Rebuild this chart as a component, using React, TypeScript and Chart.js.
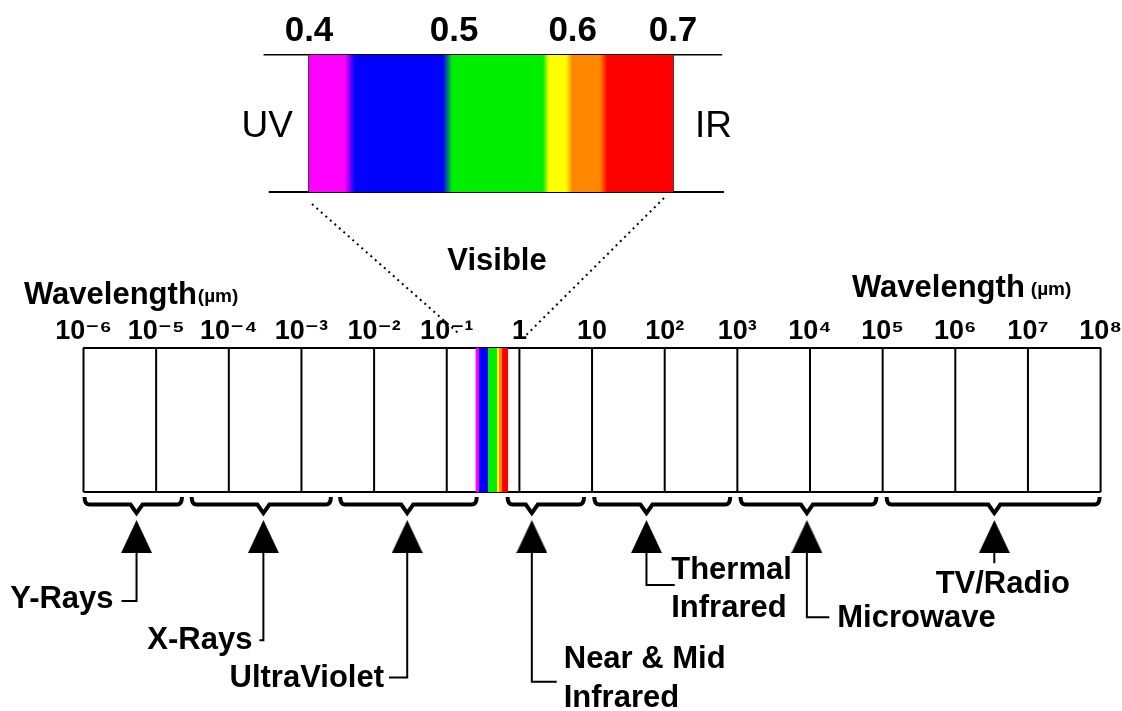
import React, { useEffect, useRef } from 'react';
import { Chart, registerables } from 'chart.js';

Chart.register(...registerables);

const FONT = '"Liberation Sans", Arial, "DejaVu Sans", sans-serif';

// ---------- data ----------
// main axis: log10 of wavelength (µm)
const decadeExponents = [-6, -5, -4, -3, -2, -1, 0, 1, 2, 3, 4, 5, 6, 7, 8];
const decadeLabels = ['10⁻⁶', '10⁻⁵', '10⁻⁴', '10⁻³', '10⁻²', '10⁻¹', '1', '10', '10²', '10³', '10⁴', '10⁵', '10⁶', '10⁷', '10⁸'];

// spectral regions (log10 µm)
const bandNames = ['Y-Rays', 'X-Rays', 'UltraViolet', 'Near & Mid\nInfrared', 'Thermal\nInfrared', 'Microwave', 'TV/Radio'];
const bandStart = [-6.0, -4.525, -2.481, -0.176, 1.017, 3.03, 5.041];
const bandEnd = [-4.631, -2.581, -0.574, 0.903, 2.915, 4.927, 8.0];
const bandArrow = [-5.27, -3.524, -1.544, 0.171, 1.749, 3.957, 6.537];

// visible strip inside the main bar (log10 µm)
const visibleStrip = [-0.606, -0.153];

// zoomed visible spectrum (µm)
const visibleTicks = [0.4, 0.5, 0.6, 0.7];
const spectrumStops = [0.4, 0.4228, 0.4292, 0.4915, 0.4984, 0.5733, 0.5784, 0.5938, 0.5995, 0.6255, 0.6326, 0.7];
const spectrumColors = ['#ff00ff', '#ff00ff', '#0000ff', '#0000ff', '#00ee00', '#00ee00', '#ffff00', '#ffff00', '#ff8800', '#ff8800', '#ff0000', '#ff0000'];

// ---------- layout (not data) ----------
const labelStemEnd = [-0.757, -1.028, -1.287, -1.317, -0.646, -0.87, -0.495];
const labelElbow = [-5.476, -3.579, -1.795, 0.514, 2.138, 4.265, 6.537];
const labelSide = ['left', 'left', 'left', 'right', 'right', 'right', 'below'];
const labelGap = [8, 7, 5, 7, -3.5, 8, -8.5];
const labelBaseline = [[7], [9], [9.4], [-13.4, 25], [-5.7, 32.3], [9.4], [30]];
const STEM_TOP = -0.424;
const TRI_Y = -0.309;
const frameTopExtent = [0.373, 0.755];
const frameBottomExtent = [0.376, 0.757];

// position of a wavelength across the zoomed spectrum (0..1), logarithmic like the top axis
function spectrumFraction(v: number) {
  const a = spectrumStops[0];
  const b = spectrumStops[spectrumStops.length - 1];
  return Math.log(v / a) / Math.log(b / a);
}

function spectrumGradient(chart: any, lo: number, hi: number, scaleId: string) {
  const sc = chart.scales[scaleId];
  if (!sc || !chart.chartArea) return 'rgba(0,0,0,0)';
  const x0 = sc.getPixelForValue(lo);
  const x1 = sc.getPixelForValue(hi);
  const g = chart.ctx.createLinearGradient(x0, 0, x1, 0);
  spectrumStops.forEach((s, i) => g.addColorStop(Math.min(1, Math.max(0, spectrumFraction(s))), spectrumColors[i]));
  return g;
}

function makeTriangle() {
  const c = document.createElement('canvas');
  c.width = 31;
  c.height = 33;
  const g = c.getContext('2d')!;
  g.fillStyle = '#000';
  g.beginPath();
  g.moveTo(15.5, 0);
  g.lineTo(31, 33);
  g.lineTo(0, 33);
  g.closePath();
  g.fill();
  return c;
}

export default function App() {
  const mainRef = useRef<HTMLCanvasElement>(null);
  const topRef = useRef<HTMLCanvasElement>(null);

  useEffect(() => {
    document.body.style.margin = '0';
    const tri = makeTriangle();

    const topPlugin = {
      id: 'uvir',
      afterDatasetsDraw(chart: any) {
        const { ctx, scales } = chart;
        const x = scales.x, y = scales.y;
        ctx.save();
        ctx.fillStyle = '#000';
        ctx.font = `37px ${FONT}`;
        ctx.textBaseline = 'alphabetic';
        const base = y.getPixelForValue(0.5) + 14;
        ctx.textAlign = 'right';
        ctx.fillText('UV', x.getPixelForValue(visibleTicks[0]) - 16, base);
        ctx.textAlign = 'left';
        ctx.fillText('IR', x.getPixelForValue(visibleTicks[visibleTicks.length - 1]) + 22, base);
        ctx.restore();
      },
    };

    const top = new Chart(topRef.current!, {
      type: 'line',
      data: {
        datasets: [
          {
            data: [{ x: 0.4, y: 1 }, { x: 0.7, y: 1 }],
            fill: { value: 0 },
            backgroundColor: (c: any) => spectrumGradient(c.chart, 0.4, 0.7, 'x'),
            borderWidth: 0,
            pointRadius: 0,
          },
          {
            data: [{ x: 0.4, y: 0 }, { x: 0.4, y: 1 }, { x: 0.4, y: null }, { x: 0.7, y: 0 }, { x: 0.7, y: 1 }],
            borderColor: '#000',
            borderWidth: 1.5,
            pointRadius: 0,
            fill: false,
            clip: false,
          },
          {
            data: [{ x: frameTopExtent[0], y: 1 }, { x: frameTopExtent[1], y: 1 }],
            borderColor: '#000',
            borderWidth: 1.5,
            pointRadius: 0,
            fill: false,
            clip: false,
          },
          {
            data: [{ x: frameBottomExtent[0], y: 0 }, { x: frameBottomExtent[1], y: 0 }],
            borderColor: '#000',
            borderWidth: 2,
            pointRadius: 0,
            fill: false,
            clip: false,
          },
        ] as any,
      },
      options: {
        responsive: false,
        animation: false,
        events: [],
        layout: { padding: { left: 309, right: 449, top: 8.8, bottom: 519 }, autoPadding: false } as any,
        plugins: { legend: { display: false }, tooltip: { enabled: false } },
        scales: {
          x: {
            type: 'logarithmic',
            position: 'top',
            min: 0.4,
            max: 0.7,
            afterBuildTicks: (s: any) => {
              s.ticks = visibleTicks.map((v) => ({ value: v }));
            },
            ticks: {
              autoSkip: false,
              maxRotation: 0,
              minRotation: 0,
              padding: 2,
              color: '#000',
              font: { size: 35, weight: 'bold', family: FONT },
              callback: (v: any) => Number(v).toFixed(1),
            },
            grid: { display: false, drawTicks: false },
            border: { display: false },
          },
          y: { type: 'linear', display: false, min: 0, max: 1 },
        },
      },
      plugins: [topPlugin],
    } as any);

    const dividerPts: any[] = [];
    decadeExponents.forEach((e) => {
      dividerPts.push({ x: e, y: 0 }, { x: e, y: 1 }, { x: e, y: null });
    });
    const stemPts: any[] = [];
    bandArrow.forEach((a, i) => {
      stemPts.push(
        { x: a, y: STEM_TOP },
        { x: a, y: labelStemEnd[i] },
        { x: labelElbow[i], y: labelStemEnd[i] },
        { x: labelElbow[i], y: null }
      );
    });

    const mainPlugin = {
      id: 'annot',
      afterDatasetsDraw(chart: any) {
        const { ctx, scales, chartArea } = chart;
        const x = scales.x, y = scales.y;
        ctx.save();
        ctx.strokeStyle = '#000';
        ctx.fillStyle = '#000';

        // braces under the bar
        const y0 = y.getPixelForValue(0);
        const yTop = y0 + 5;
        const yBar = y0 + 12.5;
        const yTip = y0 + 21;
        ctx.lineWidth = 4;
        ctx.lineJoin = 'miter';
        ctx.lineCap = 'butt';
        bandStart.forEach((s, i) => {
          const x0 = x.getPixelForValue(s) + 1;
          const x1 = x.getPixelForValue(bandEnd[i]) - 1;
          const xc = x.getPixelForValue(bandArrow[i]);
          ctx.beginPath();
          ctx.moveTo(x0, yTop);
          ctx.quadraticCurveTo(x0, yBar, x0 + 5, yBar);
          ctx.lineTo(xc - 6, yBar);
          ctx.lineTo(xc, yTip);
          ctx.lineTo(xc + 6, yBar);
          ctx.lineTo(x1 - 5, yBar);
          ctx.quadraticCurveTo(x1, yBar, x1, yTop);
          ctx.stroke();
        });

        // region labels
        ctx.font = `bold 31px ${FONT}`;
        ctx.textBaseline = 'alphabetic';
        bandNames.forEach((name, i) => {
          const ye = y.getPixelForValue(labelStemEnd[i]);
          const xe = x.getPixelForValue(labelElbow[i]);
          name.split('\n').forEach((ln, k) => {
            const by = ye + labelBaseline[i][k];
            if (labelSide[i] === 'left') {
              ctx.textAlign = 'right';
              ctx.fillText(ln, xe - labelGap[i], by);
            } else if (labelSide[i] === 'right') {
              ctx.textAlign = 'left';
              ctx.fillText(ln, xe + labelGap[i], by);
            } else {
              ctx.textAlign = 'center';
              ctx.fillText(ln, xe - labelGap[i], by);
            }
          });
        });

        // titles
        ctx.textAlign = 'left';
        ctx.font = `bold 31px ${FONT}`;
        ctx.fillText('Wavelength', 24, 304);
        let w = ctx.measureText('Wavelength').width;
        ctx.font = `bold 19px ${FONT}`;
        ctx.fillText('(µm)', 24 + w + 1, 302);
        ctx.font = `bold 31px ${FONT}`;
        ctx.fillText('Wavelength', 852, 297);
        w = ctx.measureText('Wavelength').width;
        ctx.font = `bold 19px ${FONT}`;
        ctx.fillText('(µm)', 852 + w + 6, 295);
        ctx.font = `bold 31px ${FONT}`;
        ctx.textAlign = 'center';
        ctx.fillText('Visible', 497, 270);

        // dotted connectors from the zoomed spectrum to the strip
        const tx = top.scales.x, ty = top.scales.y;
        ctx.lineWidth = 2;
        ctx.setLineDash([2, 4]);
        ctx.beginPath();
        ctx.moveTo(tx.getPixelForValue(0.4) + 3, ty.getPixelForValue(0) + 12);
        ctx.lineTo(x.getPixelForValue(visibleStrip[0]) - 15, chartArea.top - 13);
        ctx.moveTo(tx.getPixelForValue(0.7) - 9, ty.getPixelForValue(0) + 6);
        ctx.lineTo(x.getPixelForValue(visibleStrip[1]) + 17, chartArea.top - 12);
        ctx.stroke();
        ctx.setLineDash([]);
        ctx.restore();
      },
    };

    const main = new Chart(mainRef.current!, {
      type: 'line',
      data: {
        datasets: [
          {
            data: [{ x: visibleStrip[0], y: 1 }, { x: visibleStrip[1], y: 1 }],
            fill: { value: 0 },
            backgroundColor: (c: any) => spectrumGradient(c.chart, visibleStrip[0], visibleStrip[1], 'x'),
            borderWidth: 0,
            pointRadius: 0,
          },
          {
            data: dividerPts,
            borderColor: '#000',
            borderWidth: 2,
            pointRadius: 0,
            fill: false,
            spanGaps: false,
            clip: false,
          },
          {
            data: [{ x: decadeExponents[0], y: 0 }, { x: decadeExponents[decadeExponents.length - 1], y: 0 }],
            borderColor: '#000',
            borderWidth: 2,
            pointRadius: 0,
            fill: false,
            clip: false,
          },
          {
            data: stemPts,
            borderColor: '#000',
            borderWidth: 2,
            pointRadius: 0,
            fill: false,
            spanGaps: false,
            clip: false,
          },
          {
            data: bandArrow.map((a) => ({ x: a, y: TRI_Y })),
            showLine: false,
            pointStyle: tri,
            pointRadius: 16,
            clip: false,
          },
        ] as any,
      },
      options: {
        responsive: false,
        animation: false,
        events: [],
        layout: { padding: { left: 83.5, right: 18, top: 315.6, bottom: 0 }, autoPadding: false } as any,
        plugins: { legend: { display: false }, tooltip: { enabled: false } },
        scales: {
          x: {
            type: 'linear',
            position: 'top',
            min: decadeExponents[0],
            max: decadeExponents[decadeExponents.length - 1],
            afterBuildTicks: (s: any) => {
              s.ticks = decadeExponents.map((v) => ({ value: v }));
            },
            ticks: {
              autoSkip: false,
              maxRotation: 0,
              minRotation: 0,
              padding: 0,
              color: '#000',
              font: { size: 27, weight: 'bold', family: FONT },
              callback: (v: any) => {
                const i = decadeExponents.indexOf(Number(v));
                return i >= 0 ? decadeLabels[i] : '';
              },
            },
            grid: { display: false, drawTicks: false },
            border: { display: true, color: '#000', width: 2 },
          },
          y: { type: 'linear', display: false, min: -1.52, max: 1 },
        },
      },
      plugins: [mainPlugin],
    } as any);

    return () => {
      main.destroy();
      top.destroy();
    };
  }, []);

  return (
    <div style={{ position: 'relative', width: 1122, height: 711, background: '#fff', overflow: 'hidden' }}>
      <canvas ref={mainRef} width={1122} height={711} style={{ position: 'absolute', left: 0, top: 0 }} />
      <canvas ref={topRef} width={1122} height={711} style={{ position: 'absolute', left: 0, top: 0 }} />
    </div>
  );
}
